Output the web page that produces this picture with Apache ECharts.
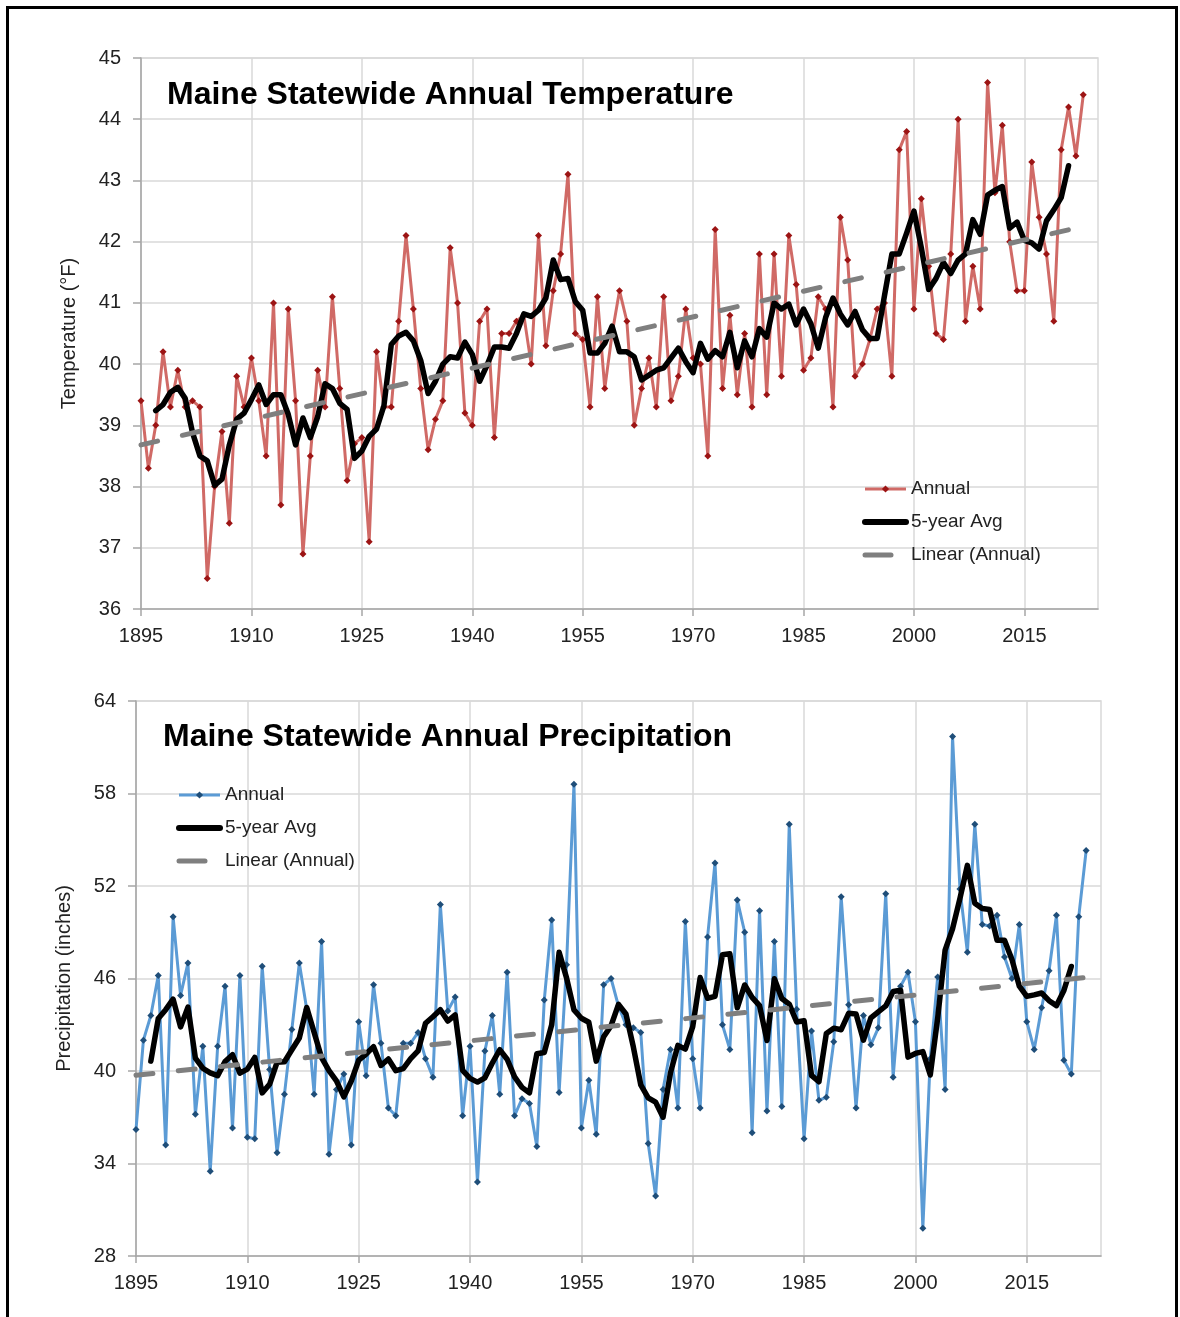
<!DOCTYPE html>
<html>
<head>
<meta charset="utf-8">
<title>Maine Statewide Annual Temperature and Precipitation</title>
<script src="https://cdn.jsdelivr.net/npm/echarts@6/dist/echarts.min.js"></script>
<style>
  html, body { margin: 0; padding: 0; background: #fff; }
  #wrap { position: relative; width: 1180px; height: 1317px; overflow: hidden; background: #fff; }
  #top { position: absolute; left: 0; top: 0; width: 1180px; height: 660px; }
  #bottom { position: absolute; left: 0; top: 660px; width: 1180px; height: 657px; }
  #frame { position: absolute; left: 6px; top: 6px; width: 1166px; height: 1400px;
           border: 3px solid #000; pointer-events: none; }
</style>
</head>
<body>
<div id="wrap">
  <div id="top"></div>
  <div id="bottom"></div>
  <div id="frame"></div>
</div>
<script>
// ---------------- data ----------------
const firstYear = 1895;            // first annual value
const avgFirstYear = 1897;         // first centred 5-year average value
const xTickYears = [1895, 1910, 1925, 1940, 1955, 1970, 1985, 2000, 2015];
const xEndYear = 2025;

// Maine statewide annual temperature (°F), 1895-2023
const tempAnnual = [
  39.4, 38.3, 39.0, 40.2, 39.3, 39.9, 39.3, 39.4, 39.3, 36.5,
  38.0, 38.9, 37.4, 39.8, 39.3, 40.1, 39.4, 38.5, 41.0, 37.7,
  40.9, 39.4, 36.9, 38.5, 39.9, 39.3, 41.1, 39.6, 38.1, 38.7,
  38.8, 37.1, 40.2, 39.3, 39.3, 40.7, 42.1, 40.9, 39.6, 38.6,
  39.1, 39.4, 41.9, 41.0, 39.2, 39.0, 40.7, 40.9, 38.8, 40.5,
  40.5, 40.7, 40.8, 40.0, 42.1, 40.3, 41.2, 41.8, 43.1, 40.5,
  40.4, 39.3, 41.1, 39.6, 40.5, 41.2, 40.7, 39.0, 39.6, 40.1,
  39.3, 41.1, 39.4, 39.8, 40.9, 40.1, 40.0, 38.5, 42.2, 39.6,
  40.8, 39.5, 40.5, 39.3, 41.8, 39.5, 41.8, 39.8, 42.1, 41.3,
  39.9, 40.1, 41.1, 40.9, 39.3, 42.4, 41.7, 39.8, 40.0, 40.4,
  40.9, 41.0, 39.8, 43.5, 43.8, 40.9, 42.7, 41.6, 40.5, 40.4,
  41.8, 44.0, 40.7, 41.6, 40.9, 44.6, 42.8, 43.9, 42.0, 41.2,
  41.2, 43.3, 42.4, 41.8, 40.7, 43.5, 44.2, 43.4, 44.4
];
// 5-year average (°F), 1897-2021
const temp5yr = [
  39.24, 39.34, 39.54, 39.62, 39.44, 38.88, 38.50, 38.42, 38.02, 38.12,
  38.68, 39.10, 39.20, 39.42, 39.66, 39.34, 39.50, 39.50, 39.18, 38.68,
  39.12, 38.80, 39.14, 39.68, 39.60, 39.36, 39.26, 38.46, 38.58, 38.82,
  38.94, 39.32, 40.32, 40.46, 40.52, 40.38, 40.06, 39.52, 39.72, 40.00,
  40.12, 40.10, 40.36, 40.16, 39.72, 39.98, 40.28, 40.28, 40.26, 40.50,
  40.82, 40.78, 40.88, 41.08, 41.70, 41.38, 41.40, 41.02, 40.88, 40.18,
  40.18, 40.34, 40.62, 40.20, 40.20, 40.12, 39.74, 39.82, 39.90, 39.94,
  40.10, 40.26, 40.04, 39.86, 40.34, 40.08, 40.22, 40.12, 40.52, 39.94,
  40.38, 40.12, 40.58, 40.44, 41.00, 40.90, 40.98, 40.64, 40.90, 40.66,
  40.26, 40.76, 41.08, 40.82, 40.64, 40.86, 40.56, 40.42, 40.42, 41.12,
  41.80, 41.80, 42.14, 42.50, 41.90, 41.22, 41.40, 41.66, 41.48, 41.70,
  41.80, 42.36, 42.12, 42.76, 42.84, 42.90, 42.22, 42.32, 42.02, 41.98,
  41.88, 42.34, 42.52, 42.72, 43.24
];
// Linear trend of annual temperature, value at first and last year
const trendYears = [1895, 2023];
const tempTrend = [38.68, 42.25];
const tempTicks = { min: 36, max: 45, step: 1 };

// Maine statewide annual precipitation (inches), 1895-2023
const precipAnnual = [
  36.2, 42.0, 43.6, 46.2, 35.2, 50.0, 44.9, 47.0, 37.2, 41.6,
  33.5, 41.6, 45.5, 36.3, 46.2, 35.7, 35.6, 46.8, 40.1, 34.7,
  38.5, 42.7, 47.0, 44.0, 38.5, 48.4, 34.6, 38.8, 39.8, 35.2,
  43.2, 39.7, 45.6, 41.8, 37.6, 37.1, 41.8, 41.8, 42.5, 40.8,
  39.6, 50.8, 43.9, 44.8, 37.1, 41.6, 32.8, 41.3, 43.6, 38.5,
  46.4, 37.1, 38.2, 37.9, 35.1, 44.6, 49.8, 38.6, 46.9, 58.6,
  36.3, 39.4, 35.9, 45.6, 46.0, 44.2, 43.0, 42.8, 42.5, 35.3,
  31.9, 38.8, 41.4, 37.6, 49.7, 40.8, 37.6, 48.7, 53.5, 43.0,
  41.4, 51.1, 49.0, 36.0, 50.4, 37.4, 48.4, 37.7, 56.0, 44.0,
  35.6, 42.6, 38.1, 38.3, 41.9, 51.3, 44.3, 37.6, 43.6, 41.7,
  42.8, 51.5, 39.6, 45.5, 46.4, 43.2, 29.8, 40.8, 46.1, 38.8,
  61.7, 51.8, 47.7, 56.0, 49.5, 49.4, 50.1, 47.4, 46.0, 49.5,
  43.2, 41.4, 44.1, 46.5, 50.1, 40.7, 39.8, 50.0, 54.3
];
// 5-year average (inches), 1897-2021
const precip5yr = [
  40.64, 43.40, 43.98, 44.66, 42.86, 44.14, 40.84, 40.18, 39.88, 39.70,
  40.62, 41.06, 39.86, 40.12, 40.88, 38.58, 39.14, 40.56, 40.60, 41.38,
  42.14, 44.12, 42.50, 40.86, 40.02, 39.36, 38.32, 39.34, 40.70, 41.10,
  41.58, 40.36, 40.78, 40.02, 40.16, 40.80, 41.30, 43.10, 43.52, 43.98,
  43.24, 43.64, 40.04, 39.52, 39.28, 39.56, 40.52, 41.38, 40.76, 39.62,
  38.94, 38.58, 41.12, 41.20, 43.00, 47.70, 46.04, 43.96, 43.42, 43.16,
  40.64, 42.22, 42.94, 44.32, 43.70, 41.56, 39.10, 38.26, 37.98, 37.00,
  39.88, 41.66, 41.42, 42.88, 46.06, 44.72, 44.84, 47.54, 47.60, 44.10,
  45.58, 44.78, 44.24, 41.98, 45.98, 44.70, 44.34, 43.18, 43.26, 39.72,
  39.30, 42.44, 42.78, 42.68, 43.74, 43.70, 42.00, 43.44, 43.84, 44.22,
  45.16, 45.24, 40.90, 41.14, 41.26, 39.74, 43.44, 47.84, 49.22, 51.20,
  53.34, 50.88, 50.54, 50.48, 48.48, 48.48, 47.24, 45.50, 44.84, 44.94,
  45.06, 44.56, 44.24, 45.22, 46.78
];
const precipTrend = [39.73, 46.07];
const precipTicks = { min: 28, max: 64, step: 6 };

// ---------------- chart building ----------------
const FONT = "'Liberation Sans', Arial, Helvetica, sans-serif";
const GRID_COLOR = '#d9d9d9';
const AXIS_COLOR = '#a6a6a6';
const TEXT_COLOR = '#222222';
const TREND_COLOR = '#7f7f7f';

function buildOption(cfg) {
  // x positions are measured in years after the first tick year,
  // y positions in units above the axis minimum, so that the ticks
  // start exactly at the first label.
  const x0 = xTickYears[0];
  const y0 = cfg.ticks.min;
  const annualData = cfg.annual.map((v, i) => [firstYear + i - x0, v - y0]);
  const avgData = cfg.avg.map((v, i) => [avgFirstYear + i - x0, v - y0]);
  const trendData = trendYears.map((yr, i) => [yr - x0, cfg.trend[i] - y0]);
  const xStep = xTickYears[1] - xTickYears[0];
  const xTickValues = xTickYears.map((y) => y - x0);

  return {
    animation: false,
    backgroundColor: 'transparent',
    textStyle: { fontFamily: FONT },
    title: {
      text: cfg.title,
      left: cfg.titleLeft,
      top: cfg.titleTop,
      textStyle: { fontFamily: FONT, fontSize: 32, fontWeight: 'bold', color: '#000' }
    },
    legend: {
      orient: 'vertical',
      left: cfg.legendLeft,
      top: cfg.legendTop,
      itemWidth: 41,
      itemHeight: 9,
      itemGap: 13,
      padding: 0,
      textStyle: { fontFamily: FONT, fontSize: 19, color: TEXT_COLOR, lineHeight: 20 },
      data: [
        { name: 'Annual', lineStyle: { width: 3, color: cfg.lineColor } },
        { name: '5-year Avg', lineStyle: { width: 6, color: '#000', cap: 'round' },
          itemStyle: { opacity: 0 } },
        { name: 'Linear (Annual)',
          lineStyle: { width: 5, color: TREND_COLOR, type: [26, 100], cap: 'round' },
          itemStyle: { opacity: 0 } }
      ]
    },
    grid: Object.assign({
      show: true,
      borderColor: GRID_COLOR,
      borderWidth: 1.5,
      backgroundColor: '#fff'
    }, cfg.grid),
    xAxis: {
      type: 'value',
      min: 0,
      max: xEndYear - x0,
      interval: xStep,
      axisLine: { show: true, lineStyle: { color: AXIS_COLOR, width: 1.5 } },
      axisTick: { show: true, length: 7, customValues: xTickValues,
                  lineStyle: { color: AXIS_COLOR, width: 1.5 } },
      axisLabel: {
        margin: 17,
        fontFamily: FONT, fontSize: 20, color: TEXT_COLOR,
        formatter: (v) => (xTickYears.indexOf(v + x0) >= 0 ? String(v + x0) : '')
      },
      splitLine: { show: true, lineStyle: { color: GRID_COLOR, width: 1.5 } }
    },
    yAxis: {
      type: 'value',
      min: 0,
      max: cfg.ticks.max - y0,
      interval: cfg.ticks.step,
      name: cfg.yName,
      nameLocation: 'middle',
      nameGap: 62,
      nameTextStyle: { fontFamily: FONT, fontSize: 20, color: TEXT_COLOR },
      axisLine: { show: true, lineStyle: { color: AXIS_COLOR, width: 1.5 } },
      axisTick: { show: true, length: 8, lineStyle: { color: AXIS_COLOR, width: 1.5 } },
      axisLabel: {
        margin: 20,
        fontFamily: FONT, fontSize: 20, color: TEXT_COLOR,
        formatter: (v) => String(v + y0)
      },
      splitLine: { show: true, lineStyle: { color: GRID_COLOR, width: 1.5 } }
    },
    series: [
      {
        name: 'Annual',
        type: 'line',
        data: annualData,
        symbol: 'diamond',
        symbolSize: 7,
        showSymbol: true,
        showAllSymbol: true,
        lineStyle: { color: cfg.lineColor, width: 3 },
        itemStyle: { color: cfg.markerColor },
        z: 2
      },
      {
        name: '5-year Avg',
        type: 'line',
        data: avgData,
        symbol: 'none',
        lineStyle: { color: '#000', width: 5.5, join: 'round', cap: 'round' },
        itemStyle: { color: '#000' },
        z: 3
      },
      {
        name: 'Linear (Annual)',
        type: 'line',
        data: trendData,
        symbol: 'none',
        lineStyle: { color: TREND_COLOR, width: 5, type: [17, 25.5], cap: 'round' },
        itemStyle: { color: TREND_COLOR },
        z: 4
      }
    ]
  };
}

const topChart = echarts.init(document.getElementById('top'), null, { renderer: 'canvas' });
topChart.setOption(buildOption({
  title: 'Maine Statewide Annual Temperature',
  titleLeft: 162, titleTop: 74,
  legendLeft: 862, legendTop: 479,
  grid: { left: 141, right: 82, top: 58, height: 551 },
  ticks: tempTicks,
  yName: 'Temperature (°F)',
  annual: tempAnnual, avg: temp5yr, trend: tempTrend,
  lineColor: '#d06a66', markerColor: '#9c1414'
}));

const bottomChart = echarts.init(document.getElementById('bottom'), null, { renderer: 'canvas' });
bottomChart.setOption(buildOption({
  title: 'Maine Statewide Annual Precipitation',
  titleLeft: 158, titleTop: 56,
  legendLeft: 176, legendTop: 125,
  grid: { left: 136, right: 79, top: 41, height: 555 },
  ticks: precipTicks,
  yName: 'Precipitation (inches)',
  annual: precipAnnual, avg: precip5yr, trend: precipTrend,
  lineColor: '#5b9bd5', markerColor: '#1f4e79'
}));
</script>
</body>
</html>
